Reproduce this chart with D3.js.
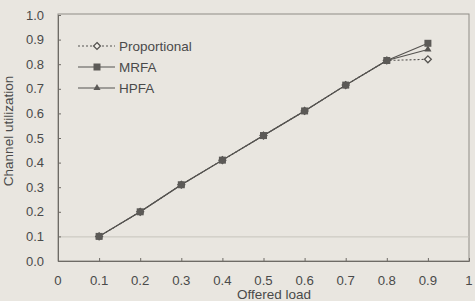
<!DOCTYPE html>
<html>
<head>
<meta charset="utf-8">
<script src="https://cdn.jsdelivr.net/npm/d3@7"></script>
<style>
  body { margin: 0; background: #e9e6e0; }
  svg { display: block; font-family: "Liberation Sans", Arial, sans-serif; }
</style>
</head>
<body>
<svg id="chart" width="475" height="301"></svg>
<script>
// offered load values on x
const loads = [0.1, 0.2, 0.3, 0.4, 0.5, 0.6, 0.7, 0.8, 0.9];
const proportional = [0.1, 0.2, 0.31, 0.41, 0.51, 0.61, 0.715, 0.815, 0.82];
const mrfa = [0.1, 0.2, 0.31, 0.41, 0.51, 0.61, 0.715, 0.815, 0.885];
const hpfa = [0.1, 0.2, 0.31, 0.41, 0.51, 0.61, 0.715, 0.815, 0.86];
const seriesNames = ["Proportional", "MRFA", "HPFA"];
const xTicks = [0, 0.1, 0.2, 0.3, 0.4, 0.5, 0.6, 0.7, 0.8, 0.9, 1];
const yTicks = [0, 0.1, 0.2, 0.3, 0.4, 0.5, 0.6, 0.7, 0.8, 0.9, 1.0];

const svg = d3.select("#chart");
const ink = "#4a4a4a";
const plotLeft = 58, plotRight = 469, plotTop = 15, plotBottom = 261;

let x = d3.scaleLinear().domain([0, 1]).range([plotLeft, plotRight]);
let y = d3.scaleLinear().domain([0, 1]).range([plotBottom, plotTop]);

// plot frame
svg.append("rect")
  .attr("x", plotLeft).attr("y", plotTop - 1)
  .attr("width", plotRight - plotLeft).attr("height", plotBottom - plotTop + 1)
  .attr("fill", "none").attr("stroke", "#8f8c86").attr("stroke-width", 1);

// faint line through the page at 0.1
svg.append("line")
  .attr("x1", plotLeft).attr("x2", plotRight)
  .attr("y1", y(0.1) + 0.5).attr("y2", y(0.1) + 0.5)
  .attr("stroke", "#c8c4bc").attr("stroke-width", 1);

// axes with inside ticks
let xAxis = svg.append("g")
  .attr("transform", "translate(0," + plotBottom + ")")
  .call(d3.axisTop(x).tickValues(xTicks).tickSize(3).tickFormat(""));
xAxis.select(".domain").attr("stroke", "#6e6b66");
xAxis.selectAll(".tick line").attr("stroke", "#6e6b66");

let yAxis = svg.append("g")
  .attr("transform", "translate(" + plotLeft + ",0)")
  .call(d3.axisRight(y).tickValues(yTicks).tickSize(3).tickFormat(""));
yAxis.select(".domain").attr("stroke", "#6e6b66");
yAxis.selectAll(".tick line").attr("stroke", "#6e6b66");

// tick labels
svg.append("g").selectAll("text")
  .data(xTicks)
  .enter()
  .append("text")
  .attr("x", (d) => x(d))
  .attr("y", 285)
  .attr("text-anchor", "middle")
  .attr("font-size", "13.2px")
  .attr("fill", ink)
  .text((d) => (d === 0 || d === 1 ? d3.format("d")(d) : d3.format(".1f")(d)));

svg.append("g").selectAll("text")
  .data(yTicks)
  .enter()
  .append("text")
  .attr("x", 44)
  .attr("y", (d) => y(d) + 4.5)
  .attr("text-anchor", "end")
  .attr("font-size", "13px")
  .attr("fill", ink)
  .text((d) => d3.format(".1f")(d));

// axis titles
svg.append("text")
  .attr("x", 274)
  .attr("y", 299)
  .attr("text-anchor", "middle")
  .attr("font-size", "13.5px")
  .attr("fill", ink)
  .text("Offered load");

svg.append("text")
  .attr("transform", "translate(13,131) rotate(-90)")
  .attr("text-anchor", "middle")
  .attr("font-size", "13.5px")
  .attr("fill", ink)
  .text("Channel utilization");

// series lines
let line = d3.line().x((d) => x(d[0])).y((d) => y(d[1]));
const lineColor = "#555350";

function drawSeries(vals, dash) {
  svg.append("path")
    .datum(loads.map((l, i) => [l, vals[i]]))
    .attr("d", line)
    .attr("fill", "none")
    .attr("stroke", lineColor)
    .attr("stroke-width", 1.1)
    .attr("stroke-dasharray", dash);
}
drawSeries(proportional, "2,2");
drawSeries(hpfa, null);
drawSeries(mrfa, null);

const sq = d3.symbol().type(d3.symbolSquare).size(49);
const tri = d3.symbol().type(d3.symbolTriangle).size(22);
const dia = d3.symbol().type(d3.symbolDiamond2).size(30);

// proportional diamonds, hidden under the squares until 0.9
svg.append("g").selectAll("path")
  .data(loads.map((l, i) => [l, proportional[i]]))
  .enter()
  .append("path")
  .attr("transform", (d) => "translate(" + x(d[0]) + "," + y(d[1]) + ")")
  .attr("d", dia)
  .attr("fill", "#f2efe9")
  .attr("stroke", lineColor)
  .attr("stroke-width", 1.3);

svg.append("g").selectAll("path")
  .data(loads.map((l, i) => [l, hpfa[i]]))
  .enter()
  .append("path")
  .attr("transform", (d) => "translate(" + x(d[0]) + "," + y(d[1]) + ")")
  .attr("d", tri)
  .attr("fill", "#555350");

svg.append("g").selectAll("path")
  .data(loads.map((l, i) => [l, mrfa[i]]))
  .enter()
  .append("path")
  .attr("transform", (d) => "translate(" + x(d[0]) + "," + y(d[1]) + ")")
  .attr("d", sq)
  .attr("fill", "#5c5a57");

// legend
const legendY = [46, 67, 88];
let legend = svg.append("g");
seriesNames.forEach(function (name, i) {
  let yy = legendY[i];
  legend.append("line")
    .attr("x1", 78).attr("x2", 115)
    .attr("y1", yy).attr("y2", yy)
    .attr("stroke", lineColor)
    .attr("stroke-width", 1.1)
    .attr("stroke-dasharray", i === 0 ? "2,2" : null);
  let sym = i === 0 ? dia : i === 1 ? sq : tri;
  legend.append("path")
    .attr("transform", "translate(97," + yy + ")")
    .attr("d", sym)
    .attr("fill", i === 0 ? "#f2efe9" : "#5c5a57")
    .attr("stroke", i === 0 ? lineColor : "none")
    .attr("stroke-width", 1.3);
  legend.append("text")
    .attr("x", 119)
    .attr("y", yy + 5)
    .attr("font-size", "13.5px")
    .attr("fill", ink)
    .text(name);
});
</script>
</body>
</html>
